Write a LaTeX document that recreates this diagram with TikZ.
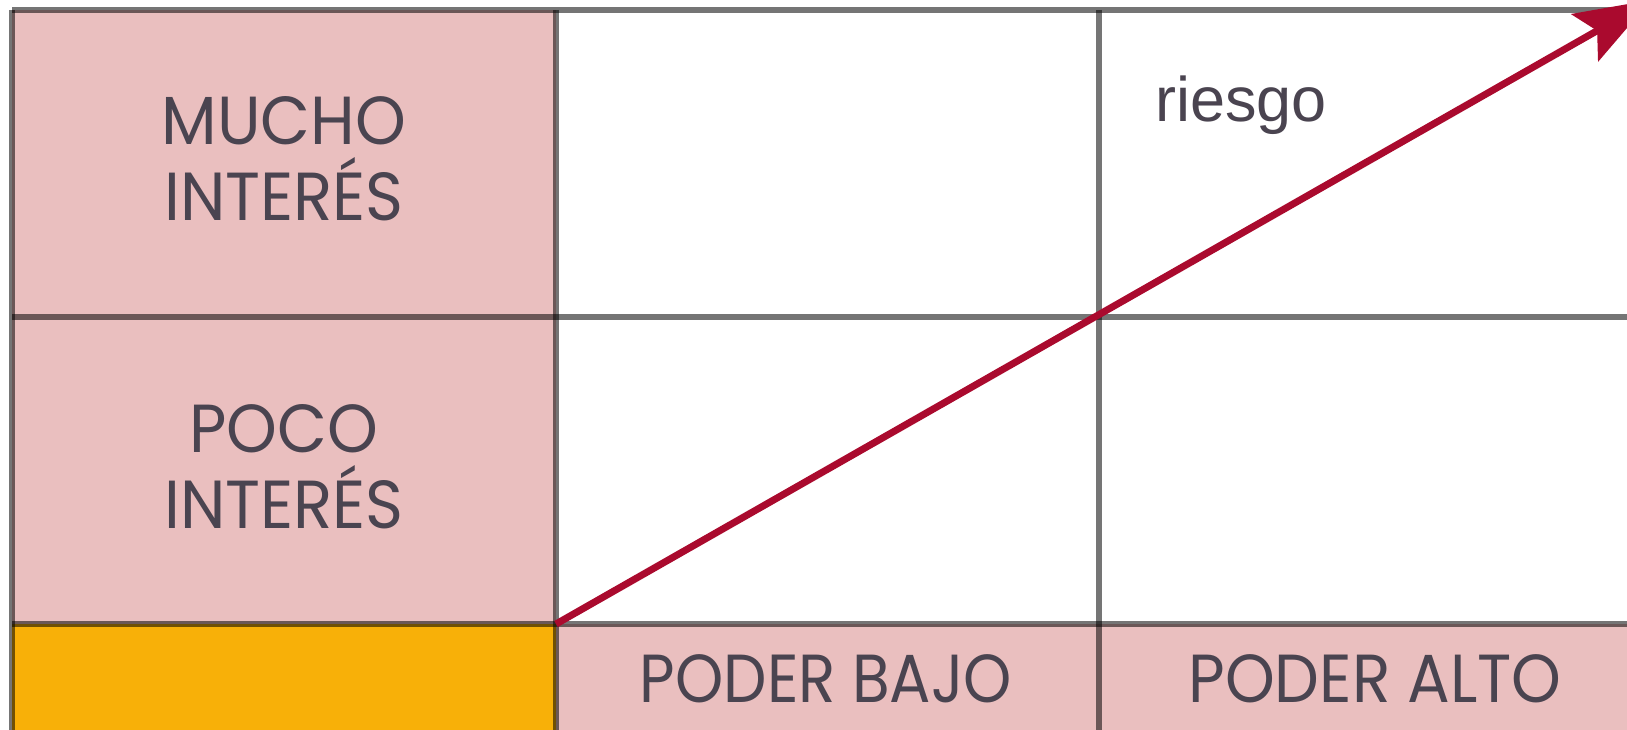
\documentclass[tikz,border=0pt]{standalone}
\usepackage{graphicx}
\usepackage{fontspec}
\setmainfont{Liberation Sans}
\newfontfamily\capsfont[FakeStretch=0.95]{Poppins}
\usetikzlibrary{arrows.meta}
\definecolor{cellpink}{RGB}{234,191,191}
\definecolor{cellorange}{RGB}{248,176,8}
\definecolor{arrowred}{RGB}{170,10,46}
\definecolor{txtdark}{RGB}{74,68,80}
\tikzset{
  gridline/.style={draw=black, draw opacity=0.54, line width=5.5pt},
  capstext/.style={anchor=base, align=center, text=txtdark, inner sep=0pt,
    font=\capsfont\fontsize{68}{76}\selectfont},
  smalltext/.style={anchor=base west, text=txtdark, inner sep=0pt,
    font=\fontsize{63}{70}\selectfont},
  riskarrow/.style={draw=arrowred, line width=7pt,
    -{Stealth[length=76pt,width=54pt,inset=14pt]}}
}
\begin{document}
\begin{tikzpicture}[x=1pt,y=-1pt]
\useasboundingbox (0,0) rectangle (1627,730);
\fill[white] (0,0) rectangle (1627,730);
% cell fills
\fill[cellpink] (12,10) rectangle (556,624);
\fill[cellorange] (12,624) rectangle (556,730);
\fill[cellpink] (556,624) rectangle (1627,730);
% grid lines
\draw[gridline] (12,10) -- (1627,10);
\draw[gridline] (12,317) -- (1627,317);
\draw[gridline] (12,624) -- (1627,624);
\draw[gridline] (12,10) -- (12,730);
\draw[gridline] (556,10) -- (556,730);
\draw[gridline] (1099,10) -- (1099,730);
% texts
\node[capstext] (mucho) at (284,221) {MUCHO\\INTERÉS};
\node[capstext] (poco) at (284,528) {POCO\\INTERÉS};
\node[capstext] (bajo) at (826,702) {\scalebox{0.95}[1]{PODER BAJO}};
\node[capstext] (alto) at (1375,702) {\scalebox{0.98}[1]{PODER ALTO}};
\node[smalltext] (riesgo) at (1155,122) {riesgo};
% arrow
\coordinate (astart) at (556,624);
\coordinate (aend) at (1651,0);
\draw[riskarrow] (astart) -- (aend);
\end{tikzpicture}
\end{document}
